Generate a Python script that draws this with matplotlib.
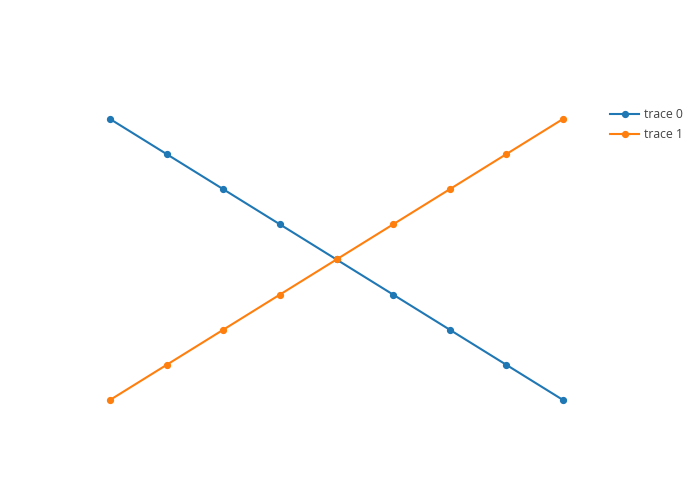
import matplotlib
matplotlib.use("Agg")
import matplotlib.pyplot as plt

x = [0, 1, 2, 3, 4, 5, 6, 7, 8]
trace0 = [8, 7, 6, 5, 4, 3, 2, 1, 0]
trace1 = [0, 1, 2, 3, 4, 5, 6, 7, 8]
names = ["trace 0", "trace 1"]
colors = ["#1f77b4", "#ff7f0e"]

plt.rcParams['font.family'] = ['Open Sans', 'DejaVu Sans']
W, H = 700, 500
fig = plt.figure(figsize=(7, 5), dpi=100)
ax = fig.add_axes([80 / W, 80 / H, 513 / W, 320 / H])
for y, n, c in zip([trace0, trace1], names, colors):
    ax.plot(x, y, color=c, lw=1.5, marker='o', ms=4.2, label=n)
ax.set_xlim(-0.53, 8.53)
ax.set_ylim(-0.57, 8.54)
ax.axis('off')

leg = fig.legend(loc='upper left', bbox_to_anchor=(610 / W, 1 - 108 / H),
                 frameon=False, fontsize=8.8, handlelength=2.4, handletextpad=0.35,
                 labelspacing=0.6, borderpad=0, borderaxespad=0)
for t in leg.get_texts():
    t.set_color('#444444')
fig.savefig('out.png', dpi=100)
